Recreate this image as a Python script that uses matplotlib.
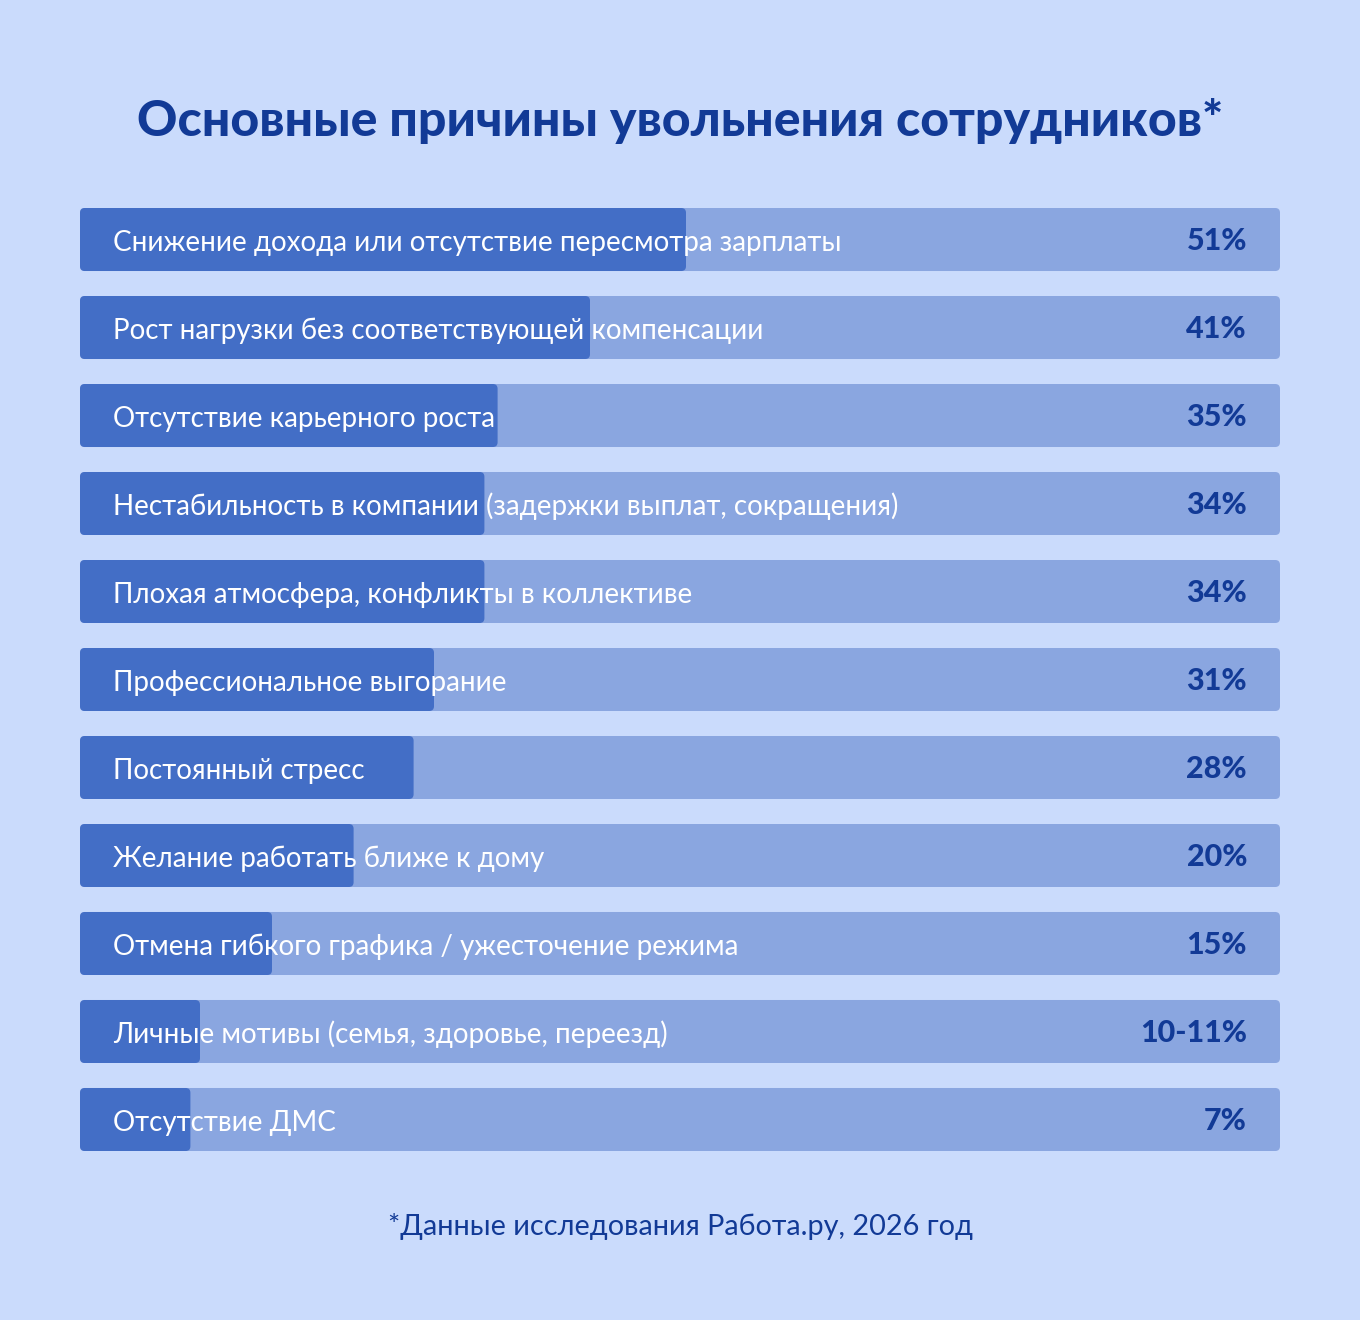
import matplotlib
matplotlib.use("Agg")
import matplotlib.pyplot as plt
from matplotlib.patches import FancyBboxPatch

labels = [
    "Снижение дохода или отсутствие пересмотра зарплаты",
    "Рост нагрузки без соответствующей компенсации",
    "Отсутствие карьерного роста",
    "Нестабильность в компании (задержки выплат, сокращения)",
    "Плохая атмосфера, конфликты в коллективе",
    "Профессиональное выгорание",
    "Постоянный стресс",
    "Желание работать ближе к дому",
    "Отмена гибкого графика / ужесточение режима",
    "Личные мотивы (семья, здоровье, переезд)",
    "Отсутствие ДМС",
]
pct_labels = ["51%", "41%", "35%", "34%", "34%", "31%", "28%", "20%", "15%", "10-11%", "7%"]
# bar lengths as drawn in the picture (% of full track)
bar_values = [50.5, 42.5, 34.8, 33.7, 33.7, 29.5, 27.8, 22.8, 16.0, 10.0, 9.2]
track = 100

bg = "#CADBFC"
light = "#8AA6E0"
dark = "#436EC6"
navy = "#123A96"

fig = plt.figure(figsize=(13.6, 13.2), dpi=100, facecolor=bg)
ax = fig.add_axes([80 / 1360, 1 - 1151 / 1320, 1200 / 1360, 943 / 1320])
ax.set_facecolor(bg)
ax.set_xlim(0, track)
ax.set_ylim(10.358, -0.358)
ax.axis("off")

h = 63 / 88
rows = range(len(labels))
back = ax.barh(rows, [track] * len(labels), height=h, color=light)
front = ax.barh(rows, bar_values, height=h, color=dark)

# swap plain rectangles for slightly rounded ones
asp = 12 / 88
for rects, col in [(back, light), (front, dark)]:
    for r in rects:
        r.set_visible(False)
        ax.add_patch(FancyBboxPatch((r.get_x(), r.get_y()), r.get_width(), r.get_height(),
                                    boxstyle="round,pad=0,rounding_size=0.4",
                                    mutation_aspect=asp, fc=col, ec="none"))

for i, (lab, p) in enumerate(zip(labels, pct_labels)):
    ax.text(2.75, i + 0.035, lab, ha="left", va="center", color="white",
            fontsize=20, family="Lato")
    ax.text(97.25, i + 0.02, p, ha="right", va="center", color=navy,
            fontsize=22, family="Lato", fontweight="black")

fig.text(0.5, 1 - 121 / 1320, "Основные причины увольнения сотрудников*",
         ha="center", va="center", color=navy, fontsize=36, family="Lato", fontweight="black")
fig.text(0.5, 1 - 1226 / 1320, "*Данные исследования Работа.ру, 2026 год",
         ha="center", va="center", color=navy, fontsize=20.8, family="Lato")

fig.savefig("out.png", dpi=100, facecolor=bg)
